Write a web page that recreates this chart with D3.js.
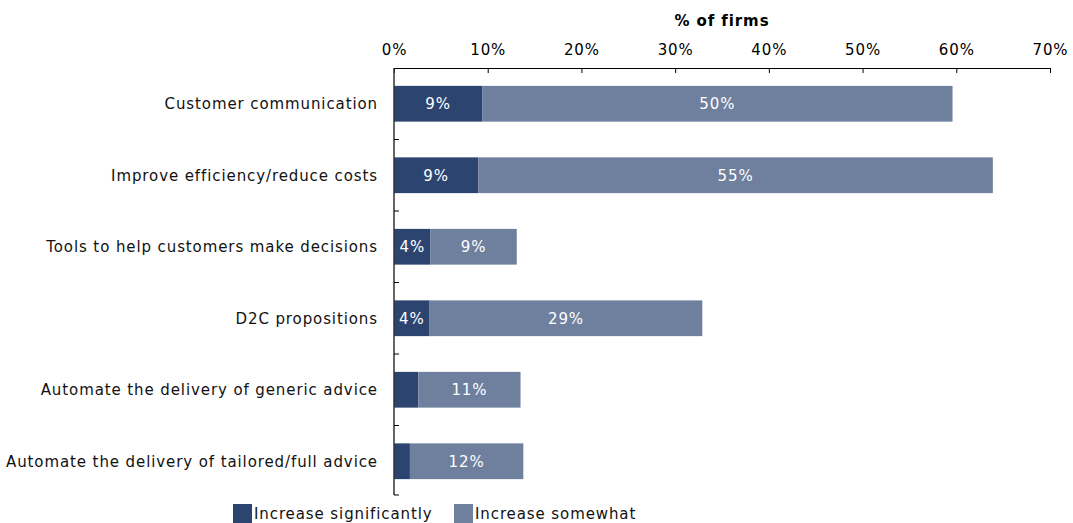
<!DOCTYPE html>
<html><head><meta charset="utf-8">
<script src="https://cdn.jsdelivr.net/npm/d3@7"></script>
<style>body{margin:0;background:#fff}svg{display:block;font-family:"DejaVu Sans",Verdana,sans-serif}text{letter-spacing:0.9px}</style>
</head><body><svg id="c" width="1073" height="523"></svg>
<script>
const categories = ["Customer communication","Improve efficiency/reduce costs","Tools to help customers make decisions","D2C propositions","Automate the delivery of generic advice","Automate the delivery of tailored/full advice"];
const significantly = [9.4, 9.0, 3.9, 3.8, 2.6, 1.7];
const somewhat = [50.2, 54.9, 9.2, 29.1, 10.9, 12.1];
const labelsSig = ["9%","9%","4%","4%","",""];
const labelsSome = ["50%","55%","9%","29%","11%","12%"];
const xTicks = [0,10,20,30,40,50,60,70];
const seriesNames = ["Increase significantly","Increase somewhat"];
const colors = ["#2c4570","#6e809d"];

const svg = d3.select("#c");
const mLeft = 394, mRight = 1050, mTop = 68, mBottom = 497;
const x = d3.scaleLinear().domain([0,70]).range([mLeft,mRight]);
const y = d3.scaleBand().domain(categories).range([mTop,mBottom]).paddingInner(0.5).paddingOuter(0.25);
const yb = d3.scaleBand().domain(categories).range([mTop,mBottom]);

const rows = categories.map((c,i)=>({c, a:significantly[i], b:somewhat[i], la:labelsSig[i], lb:labelsSome[i]}));

const g = svg.append("g");
g.selectAll("rect.a").data(rows).join("rect").attr("class","a")
 .attr("x",x(0)).attr("y",d=>y(d.c)).attr("width",d=>x(d.a)-x(0)).attr("height",y.bandwidth())
 .attr("fill",colors[0]);
g.selectAll("rect.b").data(rows).join("rect").attr("class","b")
 .attr("x",d=>x(d.a)).attr("y",d=>y(d.c)).attr("width",d=>x(d.a+d.b)-x(d.a)).attr("height",y.bandwidth())
 .attr("fill",colors[1]);
g.selectAll("text.la").data(rows).join("text").attr("class","la")
 .attr("x",d=>(x(0)+x(d.a))/2).attr("y",d=>y(d.c)+y.bandwidth()/2).attr("dy","0.35em")
 .attr("text-anchor","middle").attr("fill","#fff").attr("font-size",15).text(d=>d.la);
g.selectAll("text.lb").data(rows).join("text").attr("class","lb")
 .attr("x",d=>(x(d.a)+x(d.a+d.b))/2).attr("y",d=>y(d.c)+y.bandwidth()/2).attr("dy","0.35em")
 .attr("text-anchor","middle").attr("fill","#fff").attr("font-size",15).text(d=>d.lb);

// top axis
const xa = svg.append("g").attr("transform",`translate(0,${mTop})`)
 .call(d3.axisTop(x).tickValues(xTicks).tickFormat(d=>d+"%").tickSizeInner(-5).tickSizeOuter(-5).tickPadding(13));
xa.select(".domain").attr("stroke","#000");
xa.selectAll("line").attr("stroke","#000");
xa.selectAll("text").attr("font-size",15).attr("fill","#000").attr("font-family","DejaVu Sans, Verdana, sans-serif");
svg.append("text").attr("x",(mLeft+mRight)/2).attr("y",26).attr("text-anchor","middle")
 .attr("font-size",15).attr("font-weight","bold").attr("fill","#000").text("% of firms");

// y axis line and separator ticks
svg.append("line").attr("x1",mLeft).attr("x2",mLeft).attr("y1",mTop).attr("y2",mBottom-2).attr("stroke","#333").attr("stroke-width",1.5);
const seps = categories.slice(1).map(c=>yb(c)).concat([mBottom-2]);
svg.selectAll("line.sep").data(seps).join("line").attr("class","sep")
 .attr("x1",mLeft).attr("x2",mLeft+5).attr("y1",d=>d).attr("y2",d=>d).attr("stroke","#000");
svg.selectAll("text.cat").data(categories).join("text").attr("class","cat")
 .attr("x",378).attr("y",d=>y(d)+y.bandwidth()/2).attr("dy","0.35em").attr("text-anchor","end")
 .attr("font-size",15).attr("fill","#111").text(d=>d);

// legend
const lx = [233, 454];
const lg = svg.selectAll("g.leg").data(seriesNames).join("g").attr("class","leg")
 .attr("transform",(d,i)=>`translate(${lx[i]},504)`);
lg.append("rect").attr("width",19).attr("height",19).attr("fill",(d,i)=>colors[i]);
lg.append("text").attr("x",21).attr("y",15).attr("font-size",15).attr("fill","#111").text(d=>d);
</script></body></html>
